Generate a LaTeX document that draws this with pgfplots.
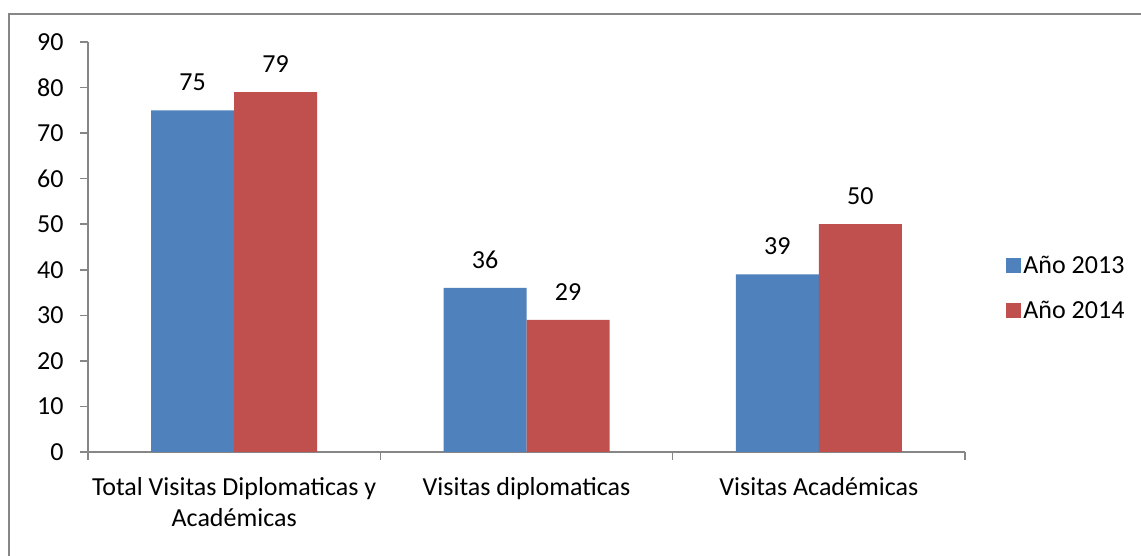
\documentclass[border=0pt]{standalone}
\usepackage{pgfplots}
\pgfplotsset{compat=1.18}
\usepackage{fontspec}
\setmainfont{Carlito}
\definecolor{cblue}{HTML}{4F81BD}
\definecolor{cred}{HTML}{C0504D}
\definecolor{axgray}{HTML}{868686}
\begin{document}
\begin{tikzpicture}[x=1pt,y=1pt]
\useasboundingbox (0,0) rectangle (1141,556);
\draw[axgray, line width=2pt] (9,0) -- (9,542) -- (1141,542);
\begin{axis}[
  at={(88pt,104pt)}, anchor=south west,
  scale only axis, width=877pt, height=410pt,
  font=\fontsize{26}{31}\selectfont,
  /pgf/number format/assume math mode=true,
  ybar=0pt, bar width=83pt,
  xmin=-0.5, xmax=2.5, ymin=0, ymax=90,
  ytick={0,10,...,90},
  xtick={-0.5,0.5,1.5,2.5},
  xticklabels={},
  extra x ticks={0,1,2},
  extra x tick labels={Total Visitas Diplomaticas y\\Académicas, Visitas diplomaticas, Visitas Académicas},
  extra x tick style={major tick length=0pt, xticklabel style={align=center, yshift=-22pt}},
  axis x line*=bottom, axis y line*=left,
  axis line style={axgray, line width=1.5pt},
  tick style={axgray, line width=1.5pt},
  tick align=outside, major tick length=8pt,
  yticklabel style={xshift=-13pt},
  nodes near coords,
  every node near coord/.append style={font=\fontsize{26}{31}\selectfont, inner sep=0pt, yshift=19pt, black},
  legend style={at={(1.047,0.40)}, anchor=west, draw=none, fill=none,
    font=\fontsize{26}{31}\selectfont, row sep=22pt, inner sep=0pt,
    /tikz/every even column/.append style={column sep=6pt}},
  legend cell align=left,
  legend image code/.code={\fill[#1] (0pt,-7.5pt) rectangle (15pt,7.5pt);},
]
\addplot[fill=cblue, draw=none] coordinates {(0,75) (1,36) (2,39)};
\addplot[fill=cred, draw=none] coordinates {(0,79) (1,29) (2,50)};
\legend{Año 2013, Año 2014}
\end{axis}
\end{tikzpicture}
\end{document}
